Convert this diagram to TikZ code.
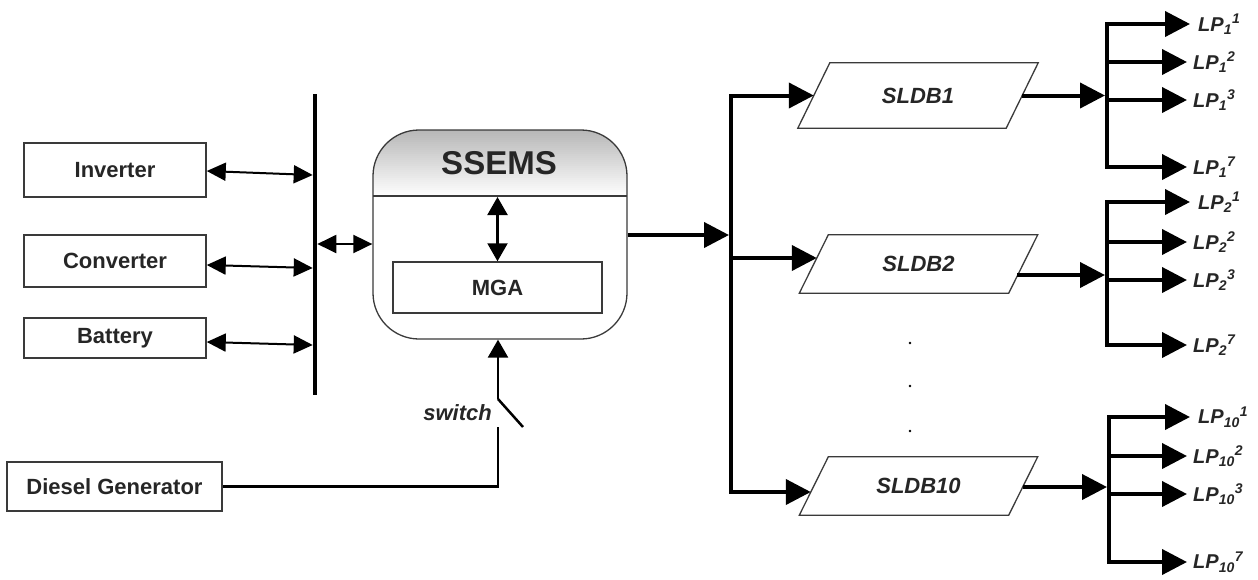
\documentclass[tikz,border=0pt]{standalone}
\usepackage{fontspec}
\setmainfont{Liberation Sans}
\usetikzlibrary{arrows.meta,calc}
\definecolor{txt}{HTML}{262626}
\definecolor{bord}{HTML}{3A3A3A}
\begin{document}
\begin{tikzpicture}[x=1pt,y=-1pt,
 box/.style={draw=bord, line width=1.5pt, rectangle, inner sep=0pt, text=txt, font=\fontsize{22}{26}\selectfont\bfseries},
 sldb/.style={rectangle, inner sep=0pt, minimum width=238pt, text=txt, font=\fontsize{22}{26}\selectfont\bfseries\itshape},
 para/.style={draw=bord, line width=1.3pt, line join=miter},
 lp/.style={text=txt, inner sep=0pt, anchor=west, font=\fontsize{20}{22}\selectfont\bfseries\itshape},
 thk/.style={line width=4pt, line join=miter},
 thn/.style={line width=2pt},
 bigarr/.style={-{Triangle[length=25pt,width=25pt]}},
 dbl/.style={{Triangle[length=19pt,width=18pt]}-{Triangle[length=19pt,width=18pt]}},
 dblv/.style={{Triangle[length=18pt,width=20pt]}-{Triangle[length=18pt,width=20pt]}},
 smarr/.style={-{Triangle[length=18pt,width=20pt]}},
]
\useasboundingbox (0,0) rectangle (1258,579);

% left boxes
\node[box, minimum width=182pt, minimum height=54pt] (inv) at (115,170) {Inverter};
\node[box, minimum width=182pt, minimum height=52pt] (conv) at (115,261) {Converter};
\node[box, minimum width=182pt, minimum height=40pt] (bat) at (115,338) {Battery};
\node[box, minimum width=215pt, minimum height=49pt] (dg) at (114.5,486.5) {Diesel Generator};

% bus
\coordinate (busT) at (315,94);
\coordinate (busB) at (315,395);
\draw[line width=4.5pt] (busT) -- (busB);
\draw[thn, dbl] ($(inv.east)+(0,1)$) -- ($(inv.east -| busT)+(-2.3,5)$);
\draw[thn, dbl] ($(conv.east)+(0,4)$) -- ($(conv.east -| busT)+(-2.3,7)$);
\draw[thn, dbl] ($(bat.east)+(0,4)$) -- ($(bat.east -| busT)+(-2.3,7)$);

% SSEMS
\node[draw=bord, line width=1.3pt, rounded corners=46pt, minimum width=254pt, minimum height=209pt, inner sep=0pt,
  path picture={
   \foreach \i [evaluate=\i as \c using {28*(1-\i/33)}] in {0,...,32}
     {\fill[sharp corners, black!\c] ([yshift={-2pt*\i}]path picture bounding box.north west) rectangle ([yshift={-2pt*\i-2.4pt}]path picture bounding box.north east);}
   \fill[sharp corners, white] ([yshift=-66pt]path picture bounding box.north west) rectangle (path picture bounding box.south east);
   \draw[sharp corners, bord, line width=1.3pt] ([yshift=-66pt]path picture bounding box.north west) -- ([yshift=-66pt]path picture bounding box.north east);}] (ssems) at (500,234.5) {};
\node[text=txt, inner sep=0pt, font=\fontsize{33}{36}\selectfont\bfseries] (ssemsT) at (499,163) {SSEMS};
\node[box, minimum width=209pt, minimum height=51pt] (mga) at (497.5,287.5) {MGA};
\coordinate (hdr) at (497.5,197);
\draw[line width=2.2pt, dblv] (hdr) -- (mga.north);
\draw[thn, dbl] ($(busT)+(2.3,150)$) -- ($(ssems.west)+(0,9.5)$);

% switch
\coordinate (swT) at (498,399);
\coordinate (swB) at (498,427);
\coordinate (swE) at (523,427);
\draw[line width=2.5pt, smarr] (swT) -- (swT |- ssems.south);
\draw[line width=2.5pt] (swT) -- (swE);
\draw[line width=2.5pt] (dg.east) -| (swB);
\node[text=txt, inner sep=0pt, anchor=east, font=\fontsize{22}{26}\selectfont\bfseries\itshape] (swl) at (492,413) {switch};

% SLDBs
\node[sldb, minimum width=240pt, minimum height=65pt] (s1) at (918,95.5) {SLDB1};
\node[sldb, minimum height=58pt] (s2) at (918.5,264) {SLDB2};
\node[sldb, minimum height=58pt] (s10) at (918.5,486) {SLDB10};
\draw[para] (s1.south west) -- ([xshift=32pt]s1.north west) -- (s1.north east) -- ([xshift=-32pt]s1.south east) -- cycle;
\draw[para] (s2.south west) -- ([xshift=29pt]s2.north west) -- (s2.north east) -- ([xshift=-29pt]s2.south east) -- cycle;
\draw[para] (s10.south west) -- ([xshift=29pt]s10.north west) -- (s10.north east) -- ([xshift=-29pt]s10.south east) -- cycle;

\coordinate (trT) at (731,95.5);
\coordinate (trB) at (731,492);
\coordinate (trM) at (731,235);
\draw[thk, bigarr] ($(ssems.east)+(0,0.5)$) -- ($(trM)+(-2,0)$);
\draw[thk, bigarr] (trB) -- (trT) -- ($(s1.west)+(16,0)$);
\draw[thk, bigarr] (trT) -- (trB) -- ($(s10.west)+(11.5,6)$);
\draw[thk, bigarr] (731,258) -- ($(s2.west)+(17.5,-6)$);

% dots
\fill (910,343) circle (1.3pt);
\fill (910,386) circle (1.3pt);
\fill (910,431) circle (1.3pt);

% group 1
\node[lp] (l11) at (1198,24) {LP\textsubscript{1}\textsuperscript{1}};
\node[lp] (l12) at (1193,62) {LP\textsubscript{1}\textsuperscript{2}};
\node[lp] (l13) at (1193,100) {LP\textsubscript{1}\textsuperscript{3}};
\node[lp] (l17) at (1193,167) {LP\textsubscript{1}\textsuperscript{7}};
\coordinate (g1t) at (1107,24);
\coordinate (g1b) at (1107,167);
\draw[thk, bigarr] ($(s1.east)+(-16,0)$) -- (1105,95.5);
\draw[thk, bigarr] (g1b) -- (g1t) -- ($(l11.west)+(-8,0)$);
\draw[thk, bigarr] (g1t) -- (g1b) -- ($(l17.west)+(-6,0)$);
\draw[thk, bigarr] (g1t |- l12.west) -- ($(l12.west)+(-6,0)$);
\draw[thk, bigarr] (g1t |- l13.west) -- ($(l13.west)+(-6,0)$);

% group 2
\node[lp] (l21) at (1198,202) {LP\textsubscript{2}\textsuperscript{1}};
\node[lp] (l22) at (1193,242) {LP\textsubscript{2}\textsuperscript{2}};
\node[lp] (l23) at (1193,280) {LP\textsubscript{2}\textsuperscript{3}};
\node[lp] (l27) at (1193,345) {LP\textsubscript{2}\textsuperscript{7}};
\coordinate (g2t) at (1107,202);
\coordinate (g2b) at (1107,345);
\draw[thk, bigarr] ($(s2.east)+(-20.5,11)$) -- (1105,275);
\draw[thk, bigarr] (g2b) -- (g2t) -- ($(l21.west)+(-8,0)$);
\draw[thk, bigarr] (g2t) -- (g2b) -- ($(l27.west)+(-6,0)$);
\draw[thk, bigarr] (g2t |- l22.west) -- ($(l22.west)+(-6,0)$);
\draw[thk, bigarr] (g2t |- l23.west) -- ($(l23.west)+(-6,0)$);

% group 3
\node[lp] (l31) at (1198,417) {LP\textsubscript{10}\textsuperscript{1}};
\node[lp] (l32) at (1193,456) {LP\textsubscript{10}\textsuperscript{2}};
\node[lp] (l33) at (1193,494) {LP\textsubscript{10}\textsuperscript{3}};
\node[lp] (l37) at (1193,562) {LP\textsubscript{10}\textsuperscript{7}};
\coordinate (g3t) at (1109,417);
\coordinate (g3b) at (1109,562);
\draw[thk, bigarr] ($(s10.east)+(-15,1)$) -- (1107,487);
\draw[thk, bigarr] (g3b) -- (g3t) -- ($(l31.west)+(-8,0)$);
\draw[thk, bigarr] (g3t) -- (g3b) -- ($(l37.west)+(-6,0)$);
\draw[thk, bigarr] (g3t |- l32.west) -- ($(l32.west)+(-6,0)$);
\draw[thk, bigarr] (g3t |- l33.west) -- ($(l33.west)+(-6,0)$);
\end{tikzpicture}
\end{document}
